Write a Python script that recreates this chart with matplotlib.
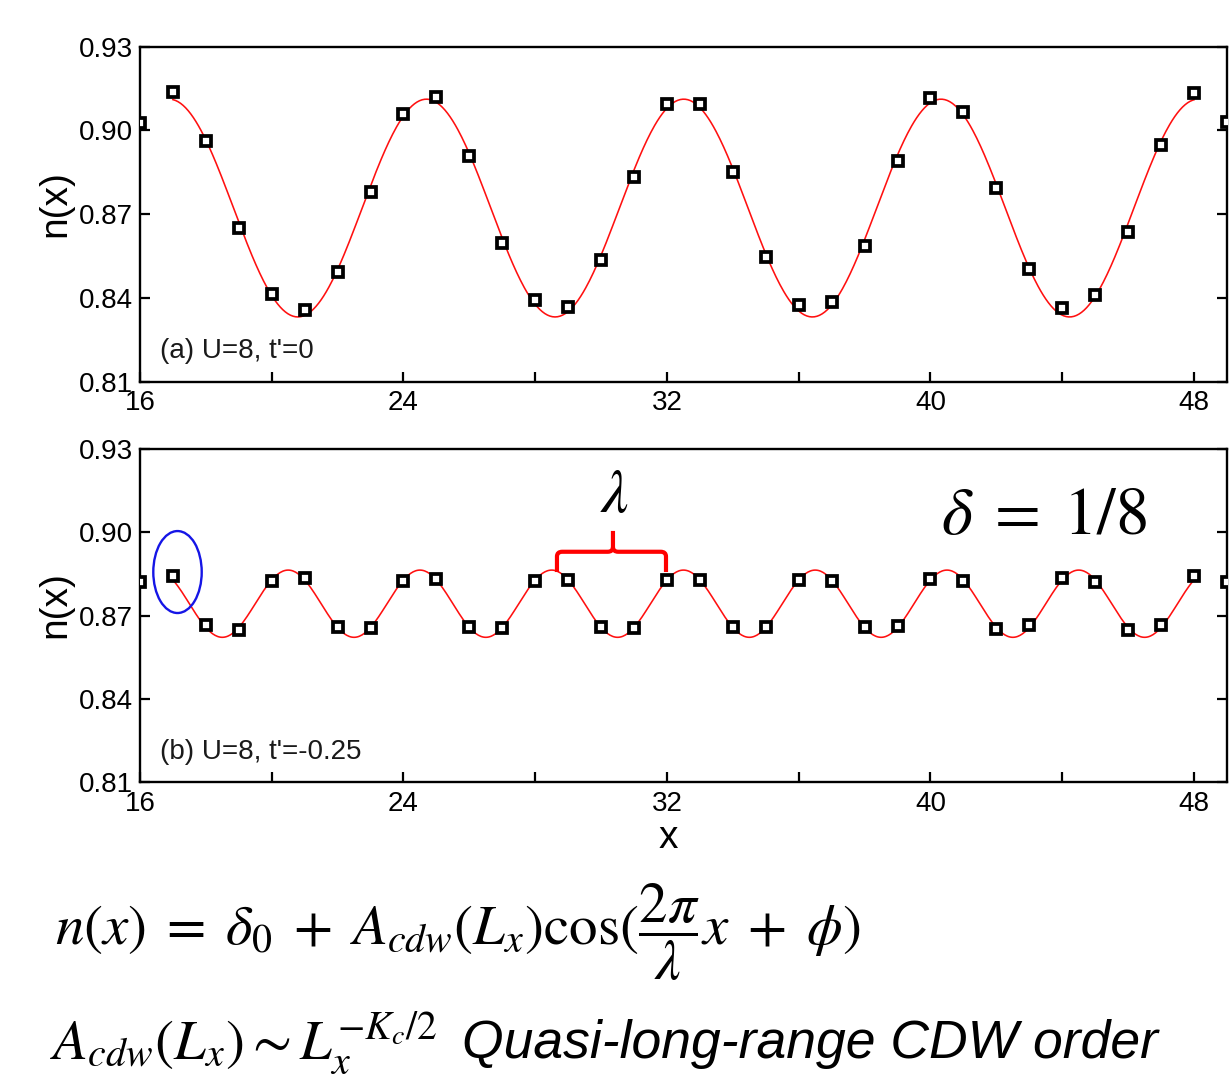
import matplotlib
matplotlib.use("Agg")
import matplotlib.pyplot as plt
import numpy as np
from matplotlib.patches import Ellipse, PathPatch
from matplotlib.path import Path
from matplotlib.ticker import MultipleLocator, FixedLocator, FormatStrFormatter

plt.rcParams["font.family"] = ["Liberation Sans", "DejaVu Sans"]
plt.rcParams["mathtext.fontset"] = "stix"

# lattice sites along x
sites = list(range(16, 50))

# local density n(x), panel (a): U=8, t'=0
n_a = [0.9027, 0.9138, 0.8961, 0.8649, 0.8415, 0.8358, 0.8493, 0.8778,
       0.9060, 0.9120, 0.8907, 0.8597, 0.8391, 0.8367, 0.8535, 0.8835,
       0.9095, 0.9095, 0.8850, 0.8548, 0.8375, 0.8387, 0.8587, 0.8892,
       0.9115, 0.9065, 0.8793, 0.8503, 0.8363, 0.8409, 0.8636, 0.8948,
       0.9133, 0.9032]

# local density n(x), panel (b): U=8, t'=-0.25
n_b = [0.8822, 0.8843, 0.8665, 0.8647, 0.8825, 0.8837, 0.8659, 0.8654,
       0.8825, 0.8833, 0.8659, 0.8654, 0.8825, 0.8828, 0.8659, 0.8655,
       0.8828, 0.8828, 0.8658, 0.8659, 0.8828, 0.8826, 0.8658, 0.8661,
       0.8832, 0.8825, 0.8653, 0.8667, 0.8837, 0.8822, 0.8647, 0.8667,
       0.8843, 0.8822]

# fitted n(x) = delta0 + A cos(2 pi x / lambda + phi): (delta0, A, lambda, phi)
fit_a = (0.8722, 0.0390, 7.81, -1.02)
fit_b = (0.8743, 0.0121, 4.0, -np.pi / 4)
fit_range = (17, 48)

panel_labels = ["(a) U=8, t'=0", "(b) U=8, t'=-0.25"]
y_ticks = [0.81, 0.84, 0.87, 0.90, 0.93]

fig = plt.figure(figsize=(12.32, 10.78), dpi=100)
ax_a = fig.add_axes([0.1136, 0.6459, 0.8823, 0.3108])
ax_b = fig.add_axes([0.1136, 0.2743, 0.8823, 0.3092])

x_fit = np.linspace(fit_range[0], fit_range[1], 800)

for ax, n, fit, label in zip([ax_a, ax_b], [n_a, n_b], [fit_a, fit_b], panel_labels):
    d0, amp, lam, phi = fit
    ax.plot(x_fit, d0 + amp * np.cos(2 * np.pi / lam * x_fit + phi),
            color="#ff1010", lw=1.15, zorder=2)
    ax.plot(sites, n, ls="none", marker="s", ms=6.9, mew=2.7,
            mec="black", mfc="white", zorder=3)

    ax.set_xlim(16, 49)
    ax.set_ylim(0.81, 0.93)
    ax.xaxis.set_major_locator(MultipleLocator(8))
    ax.xaxis.set_minor_locator(MultipleLocator(4))
    ax.yaxis.set_major_locator(FixedLocator(y_ticks))
    ax.yaxis.set_major_formatter(FormatStrFormatter("%.2f"))
    ax.tick_params(axis="both", which="both", direction="in", length=7,
                   width=1.6, top=False, right=True, labelsize=20,
                   colors="black")
    ax.tick_params(axis="x", which="major", pad=6)
    ax.tick_params(axis="y", which="major", pad=5)
    for sp in ax.spines.values():
        sp.set_linewidth(1.7)

    ax.set_ylabel("n(x)", fontsize=28)
    ax.yaxis.set_label_coords(-0.061, 0.533)

    ax.text(16.6, 0.8185, label, fontsize=20, color="#1a1a1a", va="baseline")

ax_b.set_xlabel("x", fontsize=28)
ax_b.xaxis.set_label_coords(0.486, -0.113)

# highlighted first site
ax_b.add_patch(Ellipse((17.14, 0.8857), 1.47, 0.0295, fill=False,
                       ec="#1515e6", lw=1.7, zorder=4))

# brace marking one wavelength
bx0, bx1, bxm = 28.66, 31.97, 30.36
by_lo, by_bar, by_tip = 0.8857, 0.8930, 0.9005
rx, ry = 0.16, 0.0017
verts = [
    (bx0, by_lo), (bx0, by_bar - ry), (bx0, by_bar), (bx0 + rx, by_bar),
    (bxm - rx, by_bar), (bxm, by_bar), (bxm, by_bar + ry), (bxm, by_tip),
    (bxm, by_bar + ry), (bxm, by_bar), (bxm + rx, by_bar),
    (bx1 - rx, by_bar), (bx1, by_bar), (bx1, by_bar - ry), (bx1, by_lo),
]
codes = [
    Path.MOVETO, Path.LINETO, Path.CURVE3, Path.CURVE3,
    Path.LINETO, Path.CURVE3, Path.CURVE3, Path.LINETO,
    Path.MOVETO, Path.CURVE3, Path.CURVE3,
    Path.LINETO, Path.CURVE3, Path.CURVE3, Path.LINETO,
]
ax_b.add_patch(PathPatch(Path(verts, codes), fill=False, ec="#ff0000",
                         lw=3.0, capstyle="butt", joinstyle="round", zorder=4))

ax_b.text(30.42, 0.9073, r"$\lambda$", fontsize=44, ha="center", va="baseline")
ax_b.text(40.33, 0.8993, r"$\delta\;=\;1/8$", fontsize=48, ha="left",
          va="baseline")

# model formulas
fig.text(0.0446, 0.1234,
         r"$n(x)\;=\;\delta_0\;+\;A_{cdw}(L_x)\cos(\dfrac{2\pi}{\lambda}x\;+\;\phi)$",
         fontsize=41, ha="left", va="baseline")
fig.text(0.0406, 0.0185, r"$A_{cdw}(L_x){\sim}L_x^{-K_c/2}$",
         fontsize=41, ha="left", va="baseline")
fig.text(0.375, 0.0185, "Quasi-long-range CDW order", fontsize=38.5,
         style="italic", ha="left", va="baseline")

fig.savefig("out.png", dpi=100, facecolor="white")
